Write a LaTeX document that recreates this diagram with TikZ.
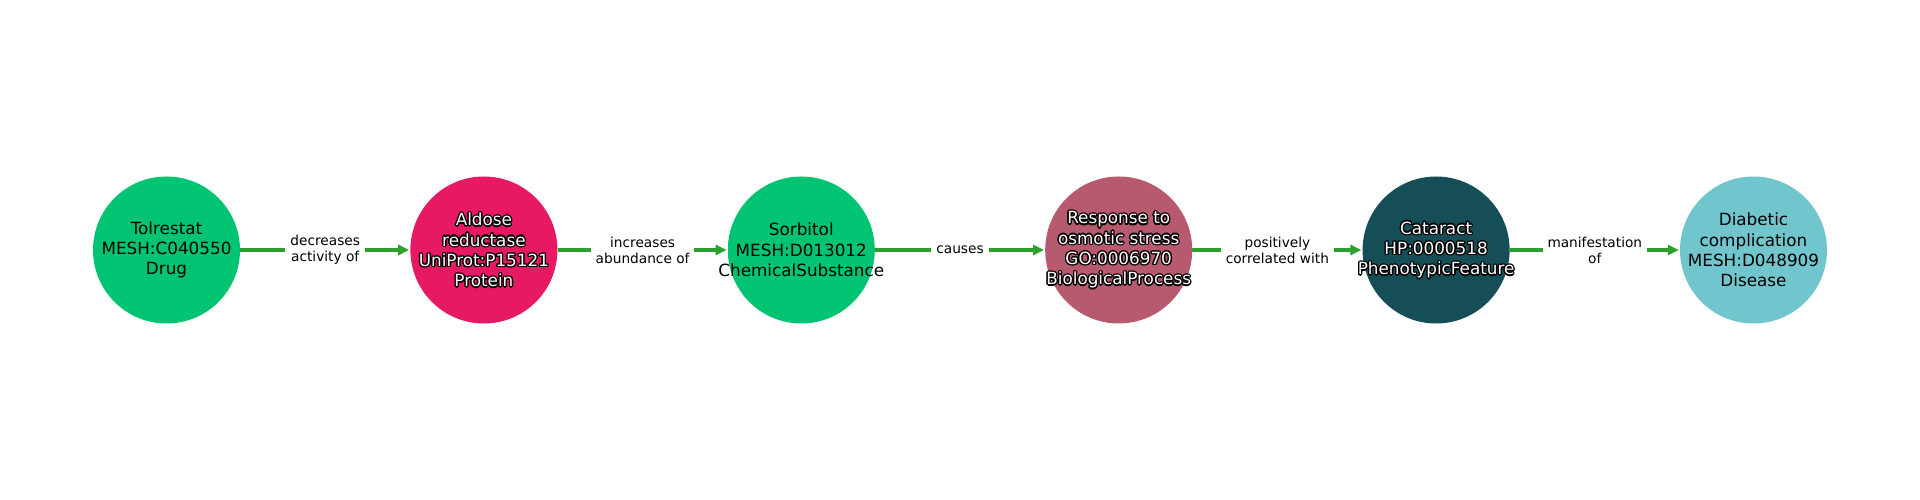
\documentclass[tikz,border=0pt]{standalone}
\usepackage{fontspec}
\setmainfont{DejaVu Sans}
\usetikzlibrary{arrows.meta}
\definecolor{cgreen}{HTML}{00C472}
\definecolor{cpink}{HTML}{E81964}
\definecolor{crose}{HTML}{B75A70}
\definecolor{cdark}{HTML}{154E56}
\definecolor{clight}{HTML}{70C6CC}
\definecolor{egreen}{HTML}{2CA02C}
\tikzset{
 ent/.style={circle, minimum size=147pt, inner sep=0pt, draw=none},
 ntext/.style={align=center, font=\fontsize{16.8}{20.3}\selectfont, inner sep=0pt},
 elbl/.style={fill=white, align=center, font=\fontsize{13.7}{16.2}\selectfont, inner sep=0pt, inner xsep=5pt, inner ysep=3pt},
 edge/.style={draw=egreen, line width=3.3pt, -{Triangle[length=11pt,width=10pt]}, shorten >=1pt},
}
\newcommand\otext[2]{%
 \foreach \a in {0,30,...,330} \node[ntext,text=black] at ([shift={(\a:1.3pt)}]#1) {#2};
 \node[ntext,text=white] at (#1) {#2};
}
\begin{document}
\begin{tikzpicture}[x=1pt,y=1pt]
\useasboundingbox[fill=white] (0,0) rectangle (1920,500);
\node[ent, fill=cgreen] (n1) at (166.5,250) {};
\node[ent, fill=cpink] (n2) at (483.9,250) {};
\node[ent, fill=cgreen] (n3) at (801.3,250) {};
\node[ent, fill=crose] (n4) at (1118.7,250) {};
\node[ent, fill=cdark] (n5) at (1436.1,250) {};
\node[ent, fill=clight] (n6) at (1753.5,250) {};
\draw[edge] (n1) -- node[elbl]{decreases\\activity of} (n2);
\draw[edge] (n2) -- node[elbl]{increases\\abundance of} (n3);
\draw[edge] (n3) -- node[elbl]{causes} (n4);
\draw[edge] (n4) -- node[elbl]{positively\\correlated with} (n5);
\draw[edge] (n5) -- node[elbl]{manifestation\\of} (n6);
\node[ntext] (t1) at (n1) {Tolrestat\\MESH:C040550\\Drug};
\otext{n2}{Aldose\\reductase\\UniProt:P15121\\Protein}
\node[ntext] (t3) at (n3) {Sorbitol\\MESH:D013012\\ChemicalSubstance};
\otext{n4}{Response to\\osmotic stress\\GO:0006970\\BiologicalProcess}
\otext{n5}{Cataract\\HP:0000518\\PhenotypicFeature}
\node[ntext] (t6) at (n6) {Diabetic\\complication\\MESH:D048909\\Disease};
\end{tikzpicture}
\end{document}
